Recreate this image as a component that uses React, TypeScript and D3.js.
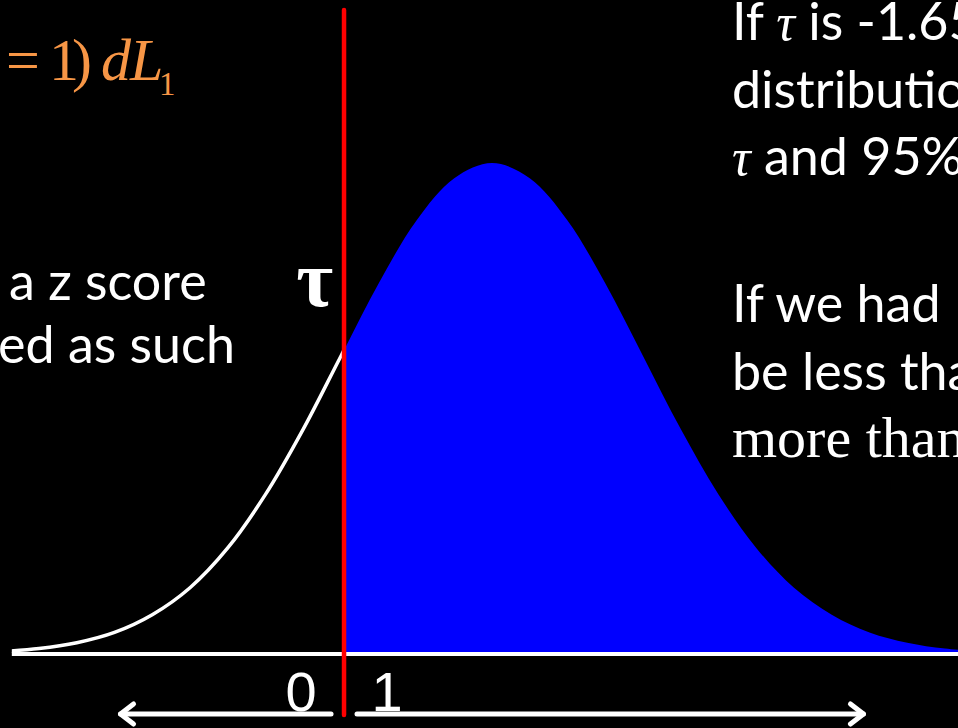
import * as d3 from 'd3';
import React from 'react';

// standardised scores sampled along the curve, and the curve height read at each one
const zGrid = [
  -3.25, -3, -2.75, -2.5, -2.25, -2, -1.75, -1.5, -1.25, -1, -0.75, -0.5, -0.25, 0,
  0.25, 0.5, 0.75, 1, 1.25, 1.5, 1.75, 2, 2.25, 2.5, 2.75, 3, 3.25,
];
const density = [
  0.005, 0.011, 0.023, 0.044, 0.08, 0.135, 0.216, 0.325, 0.458, 0.607, 0.755, 0.883, 0.969, 1.0,
  0.969, 0.883, 0.755, 0.607, 0.458, 0.325, 0.216, 0.135, 0.08, 0.044, 0.023, 0.011, 0.005,
];

const tau = -0.98; // criterion
const curveStart = -3.18;
const arrowReach = 2.46;
const arrowGap = 0.086;
const labelOffset = 0.285;
const decisionLabels = ['0', '1'];

const leftLines = ['a z score', 'ed as such'];
const rightLines = ['If τ is -1.65', 'distribution', 'τ and 95%', 'If we had', 'be less than', 'more than'];
const rightBaselines = [40, 108, 175, 322, 390, 457];

const W = 958;
const H = 728;
const ORANGE = '#F79646';
const SANS = 'Lato, "Open Sans", sans-serif';
const SERIF = '"Liberation Serif", "Times New Roman", serif';

// put τ into a serif tspan, the rest stays in the sans font
const withTau = (s: string) =>
  s.split('τ').flatMap((part, i) =>
    i === 0
      ? [part]
      : [
          <tspan key={'t' + i} fontFamily={SERIF} fontStyle="italic">
            τ
          </tspan>,
          part,
        ]
  );

export default function App() {
  const x = d3.scaleLinear().domain([-3, 3]).range([39, 945]);
  const y = d3.scaleLinear().domain([0, 1]).range([654, 163]);

  const pts: [number, number][] = zGrid.map((z, i) => [z, density[i]]);

  const line = d3
    .line<[number, number]>()
    .x((d) => x(d[0]))
    .y((d) => y(d[1]))
    .curve(d3.curveCatmullRom);

  const area = d3
    .area<[number, number]>()
    .x((d) => x(d[0]))
    .y0(y(0))
    .y1((d) => y(d[1]))
    .curve(d3.curveCatmullRom);

  const xt = x(tau);
  const arrowY = 714;
  const head = (tip: number, dir: number) =>
    `M${tip + dir * 13},${arrowY - 10}L${tip},${arrowY}L${tip + dir * 13},${arrowY + 10}`;

  return (
    <svg
      width={W}
      height={H}
      style={{ position: 'fixed', left: 0, top: 0, display: 'block', background: '#000' }}
    >
      <defs>
        <clipPath id="leftSide">
          <rect x={x(curveStart)} y={0} width={xt - x(curveStart)} height={H} />
        </clipPath>
        <clipPath id="rightSide">
          <rect x={xt} y={0} width={W - xt} height={H} />
        </clipPath>
      </defs>
      <rect width={W} height={H} fill="#000" />

      {/* upper tail shaded */}
      <path d={area(pts) || ''} fill="#0000FF" clipPath="url(#rightSide)" />
      {/* lower part as an outline */}
      <path
        d={line(pts) || ''}
        fill="none"
        stroke="#fff"
        strokeWidth={3.5}
        clipPath="url(#leftSide)"
      />
      {/* baseline */}
      <line x1={x(curveStart)} x2={W} y1={y(0)} y2={y(0)} stroke="#fff" strokeWidth={4} />

      {/* decision arrows */}
      <g stroke="#fff" strokeWidth={5} strokeLinecap="round" strokeLinejoin="round" fill="none">
        <line x1={x(-arrowReach)} x2={x(tau - arrowGap)} y1={arrowY} y2={arrowY} />
        <path d={head(x(-arrowReach), 1)} />
        <line x1={x(tau + arrowGap)} x2={x(arrowReach)} y1={arrowY} y2={arrowY} />
        <path d={head(x(arrowReach), -1)} />
      </g>
      {decisionLabels.map((lab, i) => (
        <text
          key={lab}
          x={x(tau + (i === 0 ? -labelOffset : labelOffset))}
          y={711}
          textAnchor="middle"
          fill="#fff"
          fontFamily='"Liberation Sans Narrow", "Liberation Sans", sans-serif'
          fontSize={56}
        >
          {lab}
        </text>
      ))}

      {/* criterion */}
      <line x1={xt} x2={xt} y1={10} y2={715} stroke="#FF0000" strokeWidth={4.5} strokeLinecap="round" />
      <text x={xt - 11} y={306} textAnchor="end" fill="#fff" fontFamily={SERIF} fontWeight="bold" fontSize={80}>
        τ
      </text>

      {/* equation fragment */}
      <g fill={ORANGE} fontFamily={SERIF} fontSize={60}>
        <text x={6} y={80}>=</text>
        <text x={49} y={80}>1</text>
        <text x={72} y={80}>)</text>
        <text x={101} y={80} fontStyle="italic">d</text>
        <text x={130} y={80} fontStyle="italic">L</text>
        <text x={159} y={95} fontSize={33}>1</text>
      </g>

      {/* left text */}
      <g fill="#fff" fontFamily={SANS} fontSize={52}>
        {leftLines.map((s, i) => (
          <text key={s} x={i === 0 ? 9 : -2} y={300 + i * 63}>
            {s}
          </text>
        ))}
      </g>

      {/* right text */}
      <g fill="#fff" fontSize={52}>
        {rightLines.map((s, i) => (
          <text
            key={s}
            x={732}
            y={rightBaselines[i]}
            fontFamily={i === rightLines.length - 1 ? SERIF : SANS}
            fontSize={i === rightLines.length - 1 ? 58 : 52}
          >
            {withTau(s)}
          </text>
        ))}
      </g>
    </svg>
  );
}
